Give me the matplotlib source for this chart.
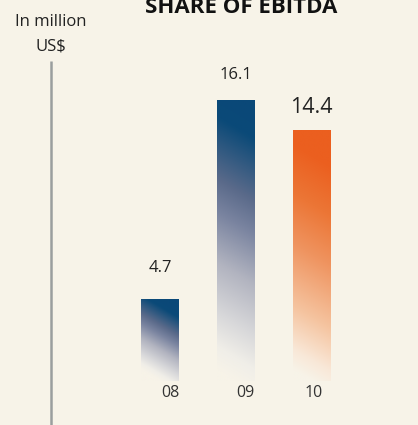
import numpy as np
import matplotlib
matplotlib.use("Agg")
import matplotlib.pyplot as plt
from matplotlib.colors import LinearSegmentedColormap
from matplotlib import transforms

# ---- data ----
years = ["08", "09", "10"]
values = [4.7, 16.1, 14.4]
value_labels = ["4.7", "16.1", "14.4"]
title = "SHARE OF EBITDA"
unit_line1 = "In million"
unit_line2 = "US$"

# ---- style ----
BG = "#F7F3E8"
plt.rcParams["font.family"] = ["Open Sans", "DejaVu Sans"]

blue_cmap = LinearSegmentedColormap.from_list("blue", [
    (0.0, BG), (0.08, "#F0EEE8"), (0.2, "#D8D8DA"), (0.38, "#B2B4C0"),
    (0.56, "#7A84A0"), (0.68, "#5A6A8A"), (0.9, "#0B4A78"), (1.0, "#0A4878")])
orange_cmap = LinearSegmentedColormap.from_list("orange", [
    (0.0, BG), (0.08, "#F9E8D8"), (0.25, "#F5C4A0"), (0.5, "#EF9460"),
    (0.7, "#EC7636"), (0.9, "#EB5F1F"), (1.0, "#EB5F1F")])
cmaps = [blue_cmap, blue_cmap, orange_cmap]

W, H = 418, 425
fig = plt.figure(figsize=(W / 100, H / 100), dpi=100, facecolor=BG)
ax = fig.add_axes([0, 0, 1, 1], facecolor=BG)

px_per_x = 75.75
px_per_y = 17.46
x0_px, base_px = 160.0, 381.0
ax.set_xlim(-x0_px / px_per_x, (W - x0_px) / px_per_x)
ax.set_ylim(-(H - base_px) / px_per_y, base_px / px_per_y)

xs = np.arange(len(values))
width = 0.495
bars = ax.bar(xs, values, width=width, color="none", edgecolor="none")

slope = 1.26  # diagonal drop of the gradient across the bar width (data units)
for bar, v, cmap in zip(bars, values, cmaps):
    u = np.linspace(0, 1, 60)
    yy = np.linspace(0, v, 300)
    U, Y = np.meshgrid(u, yy)
    t = np.clip((Y + slope * (U - 0.5)) / v, 0, 1)
    x_left = bar.get_x()
    im = ax.imshow(t, cmap=cmap, vmin=0, vmax=1, origin="lower",
                   extent=[x_left, x_left + bar.get_width(), 0, v],
                   aspect="auto", interpolation="bilinear", zorder=2)
    im.set_clip_path(bar)

# value labels
label_offsets = [31, 25, 22]
label_sizes = [12, 12, 15.5]
for x, v, lab, off, fs in zip(xs, values, value_labels, label_offsets, label_sizes):
    tr = transforms.offset_copy(ax.transData, fig=fig, x=0, y=off, units="dots")
    ax.text(x, v, lab, transform=tr, ha="center", va="center",
            fontsize=fs, color="#222222")

# year labels
year_offsets = [10, 9.5, 2.5]
for x, lab, off in zip(xs, years, year_offsets):
    tr = transforms.offset_copy(ax.transData, fig=fig, x=off, y=-12, units="dots")
    ax.text(x, 0, lab, transform=tr, ha="center", va="center",
            fontsize=11.5, color="#333333")

# axis line
for s in ax.spines.values():
    s.set_visible(False)
ax.set_xticks([])
ax.set_yticks([])
axis_x = (51.5 - x0_px) / px_per_x
ax.plot([axis_x, axis_x], [(base_px - 61) / px_per_y, -(H - base_px) / px_per_y],
        color="#9A9E9E", lw=1.8, solid_capstyle="butt", zorder=1)

# title & unit
fig.text(241.5 / W, 1 - 13 / H, title, ha="center", va="baseline",
         fontsize=16, fontweight="bold", color="#111111")
fig.text(50.5 / W, 1 - 22 / H, unit_line1, ha="center", va="center",
         fontsize=12, color="#222222")
fig.text(50.5 / W, 1 - 47 / H, unit_line2, ha="center", va="center",
         fontsize=12, color="#222222")

fig.savefig("out.png", dpi=100, facecolor=BG)
